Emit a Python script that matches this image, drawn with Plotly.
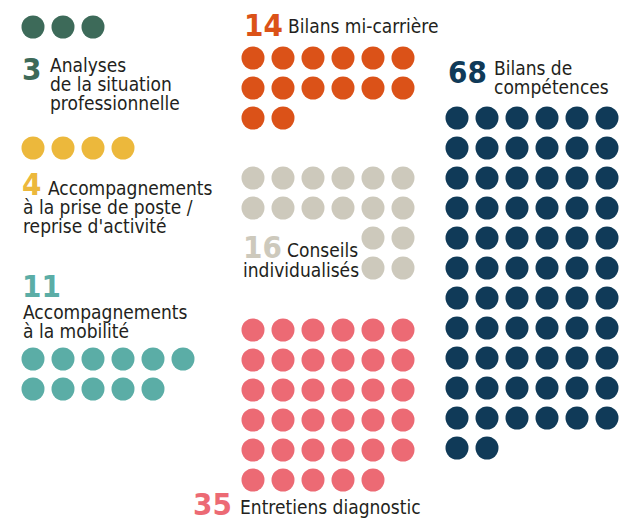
import plotly.graph_objects as go

# ---- data ----
counts = [3, 4, 11, 14, 16, 35, 68]
numbers = ["3", "4", "11", "14", "16", "35", "68"]
label_lines = [
    ["Analyses", "de la situation", "professionnelle"],
    ["Accompagnements", "à la prise de poste /", "reprise d'activité"],
    ["Accompagnements", "à la mobilité"],
    ["Bilans mi-carrière"],
    ["Conseils", "individualisés"],
    ["Entretiens diagnostic"],
    ["Bilans de", "compétences"],
]
colors = ["#3d6a59", "#ecb83c", "#5bada6", "#db5218", "#cdc9bc", "#ec6a74", "#103a58"]

# ---- layout config (pixel space of the page) ----
W, H = 623, 524
STEP = 30
DOT = 23
grids = [
    dict(x0=33, y0=27, cols=6),
    dict(x0=33, y0=148, cols=6),
    dict(x0=33, y0=359, cols=6),
    dict(x0=253, y0=58, cols=6),
    dict(x0=253, y0=178, cols=6, tail_row=2, tail_off=4, tail_cols=2),
    dict(x0=253, y0=330, cols=6),
    dict(x0=457, y0=118, cols=6),
]
num_pos = [(21, 80), (21, 195), (21, 297), (243, 36), (242, 258), (192, 515), (447, 83)]
line_pos = [
    [(49, 72), (49, 91), (49, 110)],
    [(47, 195), (22, 214), (22, 233)],
    [(22, 319), (22, 338)],
    [(287, 33)],
    [(286, 257), (242, 277)],
    [(239, 514)],
    [(493, 75), (493, 94)],
]

NUM_SIZE = 31
TXT_SIZE = 19
FONT = "DejaVu Sans Condensed, DejaVu Sans, sans-serif"
TXT_COLOR = "#231f20"


def grid_points(n, g):
    xs, ys = [], []
    for i in range(n):
        tr = g.get("tail_row")
        if tr is not None and i >= tr * g["cols"]:
            j = i - tr * g["cols"]
            r = tr + j // g["tail_cols"]
            c = g["tail_off"] + j % g["tail_cols"]
        else:
            r, c = divmod(i, g["cols"])
        xs.append(g["x0"] + c * STEP)
        ys.append(g["y0"] + r * STEP)
    return xs, ys


fig = go.Figure()
for n, g, col in zip(counts, grids, colors):
    xs, ys = grid_points(n, g)
    fig.add_trace(go.Scatter(x=xs, y=ys, mode="markers", cliponaxis=False,
                             marker=dict(size=DOT, color=col, line=dict(width=0)),
                             hoverinfo="skip", showlegend=False))

ann = []
for num, (nx, ny), col in zip(numbers, num_pos, colors):
    ann.append(dict(x=nx, y=ny - 0.36 * NUM_SIZE, text="<b>%s</b>" % num, showarrow=False,
                    xanchor="left", yanchor="middle", borderpad=0,
                    font=dict(family=FONT, size=NUM_SIZE, color=col)))
for lines, poss in zip(label_lines, line_pos):
    for t, (lx, ly) in zip(lines, poss):
        ann.append(dict(x=lx, y=ly - 0.36 * TXT_SIZE, text=t, showarrow=False,
                        xanchor="left", yanchor="middle", borderpad=0,
                        font=dict(family=FONT, size=TXT_SIZE, color=TXT_COLOR)))

fig.update_layout(
    width=W, height=H, margin=dict(l=0, r=0, t=0, b=0),
    paper_bgcolor="white", plot_bgcolor="white",
    xaxis=dict(range=[0, W], visible=False, fixedrange=True),
    yaxis=dict(range=[H, 0], visible=False, fixedrange=True),
    annotations=ann,
)
fig.write_html("out.html", config={"displayModeBar": False},
               post_script="document.body.style.margin='0';document.body.style.overflow='hidden';")
